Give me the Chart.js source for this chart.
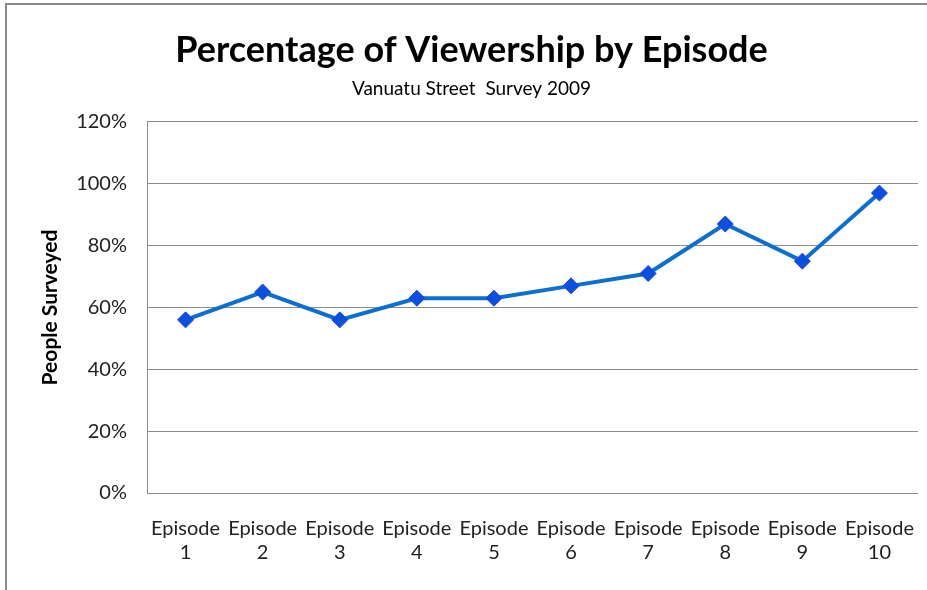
<!DOCTYPE html>
<html>
<head>
<meta charset="utf-8">
<script src="https://cdn.jsdelivr.net/npm/chart.js@4"></script>
<style>
  html, body { margin: 0; padding: 0; background: #fff; }
  #wrap { position: relative; width: 927px; height: 590px; }
  #frame { position: absolute; left: 5px; top: 3px; width: 925px; height: 600px;
           border-top: 2px solid #8a8a8a; border-left: 2px solid #8a8a8a; }
  canvas { position: absolute; left: 0; top: 0; }
</style>
</head>
<body>
<div id="wrap">
  <div id="frame"></div>
  <canvas id="chart" width="927" height="590"></canvas>
</div>
<script>
// data
const episodes = [['Episode', '1'], ['Episode', '2'], ['Episode', '3'], ['Episode', '4'], ['Episode', '5'],
                  ['Episode', '6'], ['Episode', '7'], ['Episode', '8'], ['Episode', '9'], ['Episode', '10']];
const viewership = [56, 65, 56, 63, 63, 67, 71, 87, 75, 97];
const yTicks = [0, 20, 40, 60, 80, 100, 120];

const data = {
    labels: episodes,
    datasets: [{
        label: 'People Surveyed',
        data: viewership,
        borderColor: '#0b6fd2',
        borderWidth: 4,
        backgroundColor: '#0a4fe0',
        pointBackgroundColor: '#0a4fe0',
        pointBorderColor: '#1b45d8',
        pointBorderWidth: 1,
        pointStyle: 'rectRot',
        pointRadius: 8,
        tension: 0
    }]
};

const config = {
    type: 'line',
    data: data,
    options: {
        responsive: false,
        animation: false,
        layout: { padding: { top: 0, left: 19, right: 3, bottom: 0 } },
        plugins: {
            legend: { display: false },
            tooltip: { enabled: false },
            title: {
                display: true,
                text: 'Percentage of Viewership by Episode',
                color: '#000',
                font: { family: 'Lato', size: 36, weight: 'bold' },
                padding: { top: 29, bottom: 0 }
            },
            subtitle: {
                display: true,
                text: 'Vanuatu Street  Survey 2009',
                color: '#000',
                font: { family: 'Lato', size: 19 },
                padding: { top: 5, bottom: 22 }
            }
        },
        scales: {
            x: {
                offset: true,
                grid: { display: false, drawTicks: false },
                border: { display: false },
                ticks: {
                    color: '#222',
                    padding: 24,
                    maxRotation: 0,
                    autoSkip: false,
                    font: { family: 'Lato', size: 20, lineHeight: 1.2 }
                },
                afterFit: function(scale) {
                    scale.height = 97;
                    scale.paddingLeft = 0;
                    scale.paddingRight = 0;
                }
            },
            y: {
                min: 0,
                max: 120,
                afterBuildTicks: function(scale) {
                    scale.ticks = yTicks.map(v => ({ value: v }));
                },
                grid: { color: '#8c8c8c', lineWidth: 1, drawTicks: false },
                border: { display: true, color: '#8c8c8c', width: 1 },
                ticks: {
                    color: '#222',
                    padding: 20,
                    font: { family: 'Lato', size: 20 },
                    callback: v => v + '%'
                },
                title: {
                    display: true,
                    text: 'People Surveyed',
                    color: '#000',
                    font: { family: 'Lato', size: 21, weight: 'bold' },
                    padding: { top: 19, bottom: 4 }
                },
                afterFit: function(scale) { scale.width = 128; }
            }
        }
    }
};

const context = document.getElementById('chart').getContext('2d');
const myChart = new Chart(context, config);
</script>
</body>
</html>
